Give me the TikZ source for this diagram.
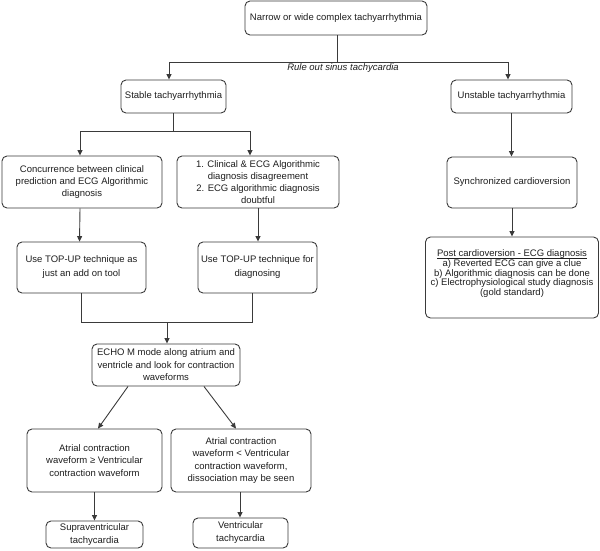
\documentclass[tikz,border=0pt]{standalone}
\usepackage{fontspec}
\setmainfont{Liberation Sans}
\usetikzlibrary{arrows.meta}
\definecolor{lncol}{HTML}{3A3A3A}
\definecolor{txtcol}{HTML}{1E1E1E}
\newcommand{\myuline}[1]{\setbox0\hbox{#1}\rlap{\rule[-1.6pt]{\wd0}{0.5pt}}\box0}
\begin{document}
\begin{tikzpicture}[x=1pt,y=-1pt,
  box/.style={draw=lncol, line width=0.9pt, rounded corners=5pt, align=center,
    inner sep=0pt, text=txtcol, font=\fontsize{9.5}{12}\selectfont},
  arr/.style={draw=lncol, line width=0.9pt, -{Triangle[length=5.5pt,width=5pt]}},
  conn/.style={draw=lncol, line width=0.9pt}]
\useasboundingbox (0,0) rectangle (600,550);

% nodes
\node[box, minimum width=182pt, minimum height=34pt] (top) at (336,18) {Narrow or wide complex tachyarrhythmia};
\node[box, minimum width=105pt, minimum height=33pt] (stable) at (173.5,96.5) {Stable tachyarrhythmia};
\node[box, minimum width=121pt, minimum height=33pt] (unstable) at (511.5,96.5) {Unstable tachyarrhythmia};
\node[box, minimum width=160pt, minimum height=52pt] (concur) at (82,182) {Concurrence between clinical\\prediction and ECG Algorithmic\\diagnosis};
\node[box, minimum width=162pt, minimum height=52pt] (clinical) at (258,182) {1. Clinical \& ECG Algorithmic\\diagnosis disagreement\\2. ECG algorithmic diagnosis\\doubtful};
\node[box, minimum width=129pt, minimum height=51pt, font=\fontsize{9.5}{14}\selectfont] (topup1) at (81.5,267.5) {Use TOP-UP technique as\\just an add on tool};
\node[box, minimum width=119pt, minimum height=51pt, font=\fontsize{9.5}{14}\selectfont] (topup2) at (257.5,267.5) {Use TOP-UP technique for\\diagnosing};
\node[box, minimum width=148pt, minimum height=42pt, font=\fontsize{9.5}{12.5}\selectfont] (echo) at (166,365) {ECHO M mode along atrium and\\ventricle and look for contraction\\waveforms};
\node[box, minimum width=135pt, minimum height=63pt, font=\fontsize{9.5}{12.5}\selectfont] (atrge) at (94.5,460.5) {Atrial contraction\\waveform ≥ Ventricular\\contraction waveform};
\node[box, minimum width=140pt, minimum height=63pt, font=\fontsize{9.5}{12.3}\selectfont] (atrlt) at (241,460.5) {Atrial contraction\\waveform < Ventricular\\contraction waveform,\\dissociation may be seen};
\node[box, minimum width=97pt, minimum height=27pt, font=\fontsize{9.5}{13}\selectfont] (supra) at (94.5,534.5) {Supraventricular\\tachycardia};
\node[box, minimum width=95pt, minimum height=30pt, font=\fontsize{9.5}{13}\selectfont] (vent) at (240.5,533) {Ventricular\\tachycardia};
\node[box, minimum width=130pt, minimum height=51pt] (sync) at (512,182.5) {Synchronized cardioversion};
\node[box, minimum width=173pt, minimum height=81pt, font=\fontsize{9.5}{9.8}\selectfont] (post) at (512,277.5) {\myuline{Post cardioversion - ECG diagnosis}\\a) Reverted ECG can give a clue\\b) Algorithmic diagnosis can be done\\c) Electrophysiological study diagnosis\\(gold standard)\\\mbox{}};

\node[text=txtcol, inner sep=0pt, font=\fontsize{9.5}{12}\selectfont\itshape] (rule) at (343,68.5) {Rule out sinus tachycardia};

% connectors
\coordinate (j1) at (337,62);
\draw[conn] (top.south -| j1) -- (j1);
\draw[arr] (j1) -| ([xshift=-4.5pt]stable.north);
\draw[arr] (j1) -| ([xshift=-3.5pt]unstable.north);

\coordinate (j2) at (173.5,131);
\draw[conn] (stable.south) -- (j2);
\draw[arr] (j2) -| ([xshift=-2pt]concur.north);
\draw[arr] (j2) -| ([xshift=-8pt]clinical.north);

\draw[arr] ([xshift=-2pt]concur.south) -- ([xshift=-2pt]topup1.north);
\draw[arr] (clinical.south) -- (clinical.south |- topup2.north);

\coordinate (j3) at (167,322);
\draw[conn] (topup1.south) |- ([xshift=-5.5pt]topup2.south |- j3) -- ([xshift=-5.5pt]topup2.south);
\draw[arr] (j3) -- (j3 |- echo.north);

\draw[arr] ([xshift=-38pt]echo.south) -- ([xshift=3.5pt]atrge.north);
\draw[arr] ([xshift=38pt]echo.south) -- ([xshift=-5pt]atrlt.north);
\draw[arr] (atrge.south) -- (supra.north);
\draw[arr] ([xshift=-1pt]atrlt.south) -- ([xshift=-1pt]atrlt.south |- vent.north);

\draw[arr] (unstable.south) -- (unstable.south |- sync.north);
\draw[arr] (sync.south) -- (post.north);
\end{tikzpicture}
\end{document}
